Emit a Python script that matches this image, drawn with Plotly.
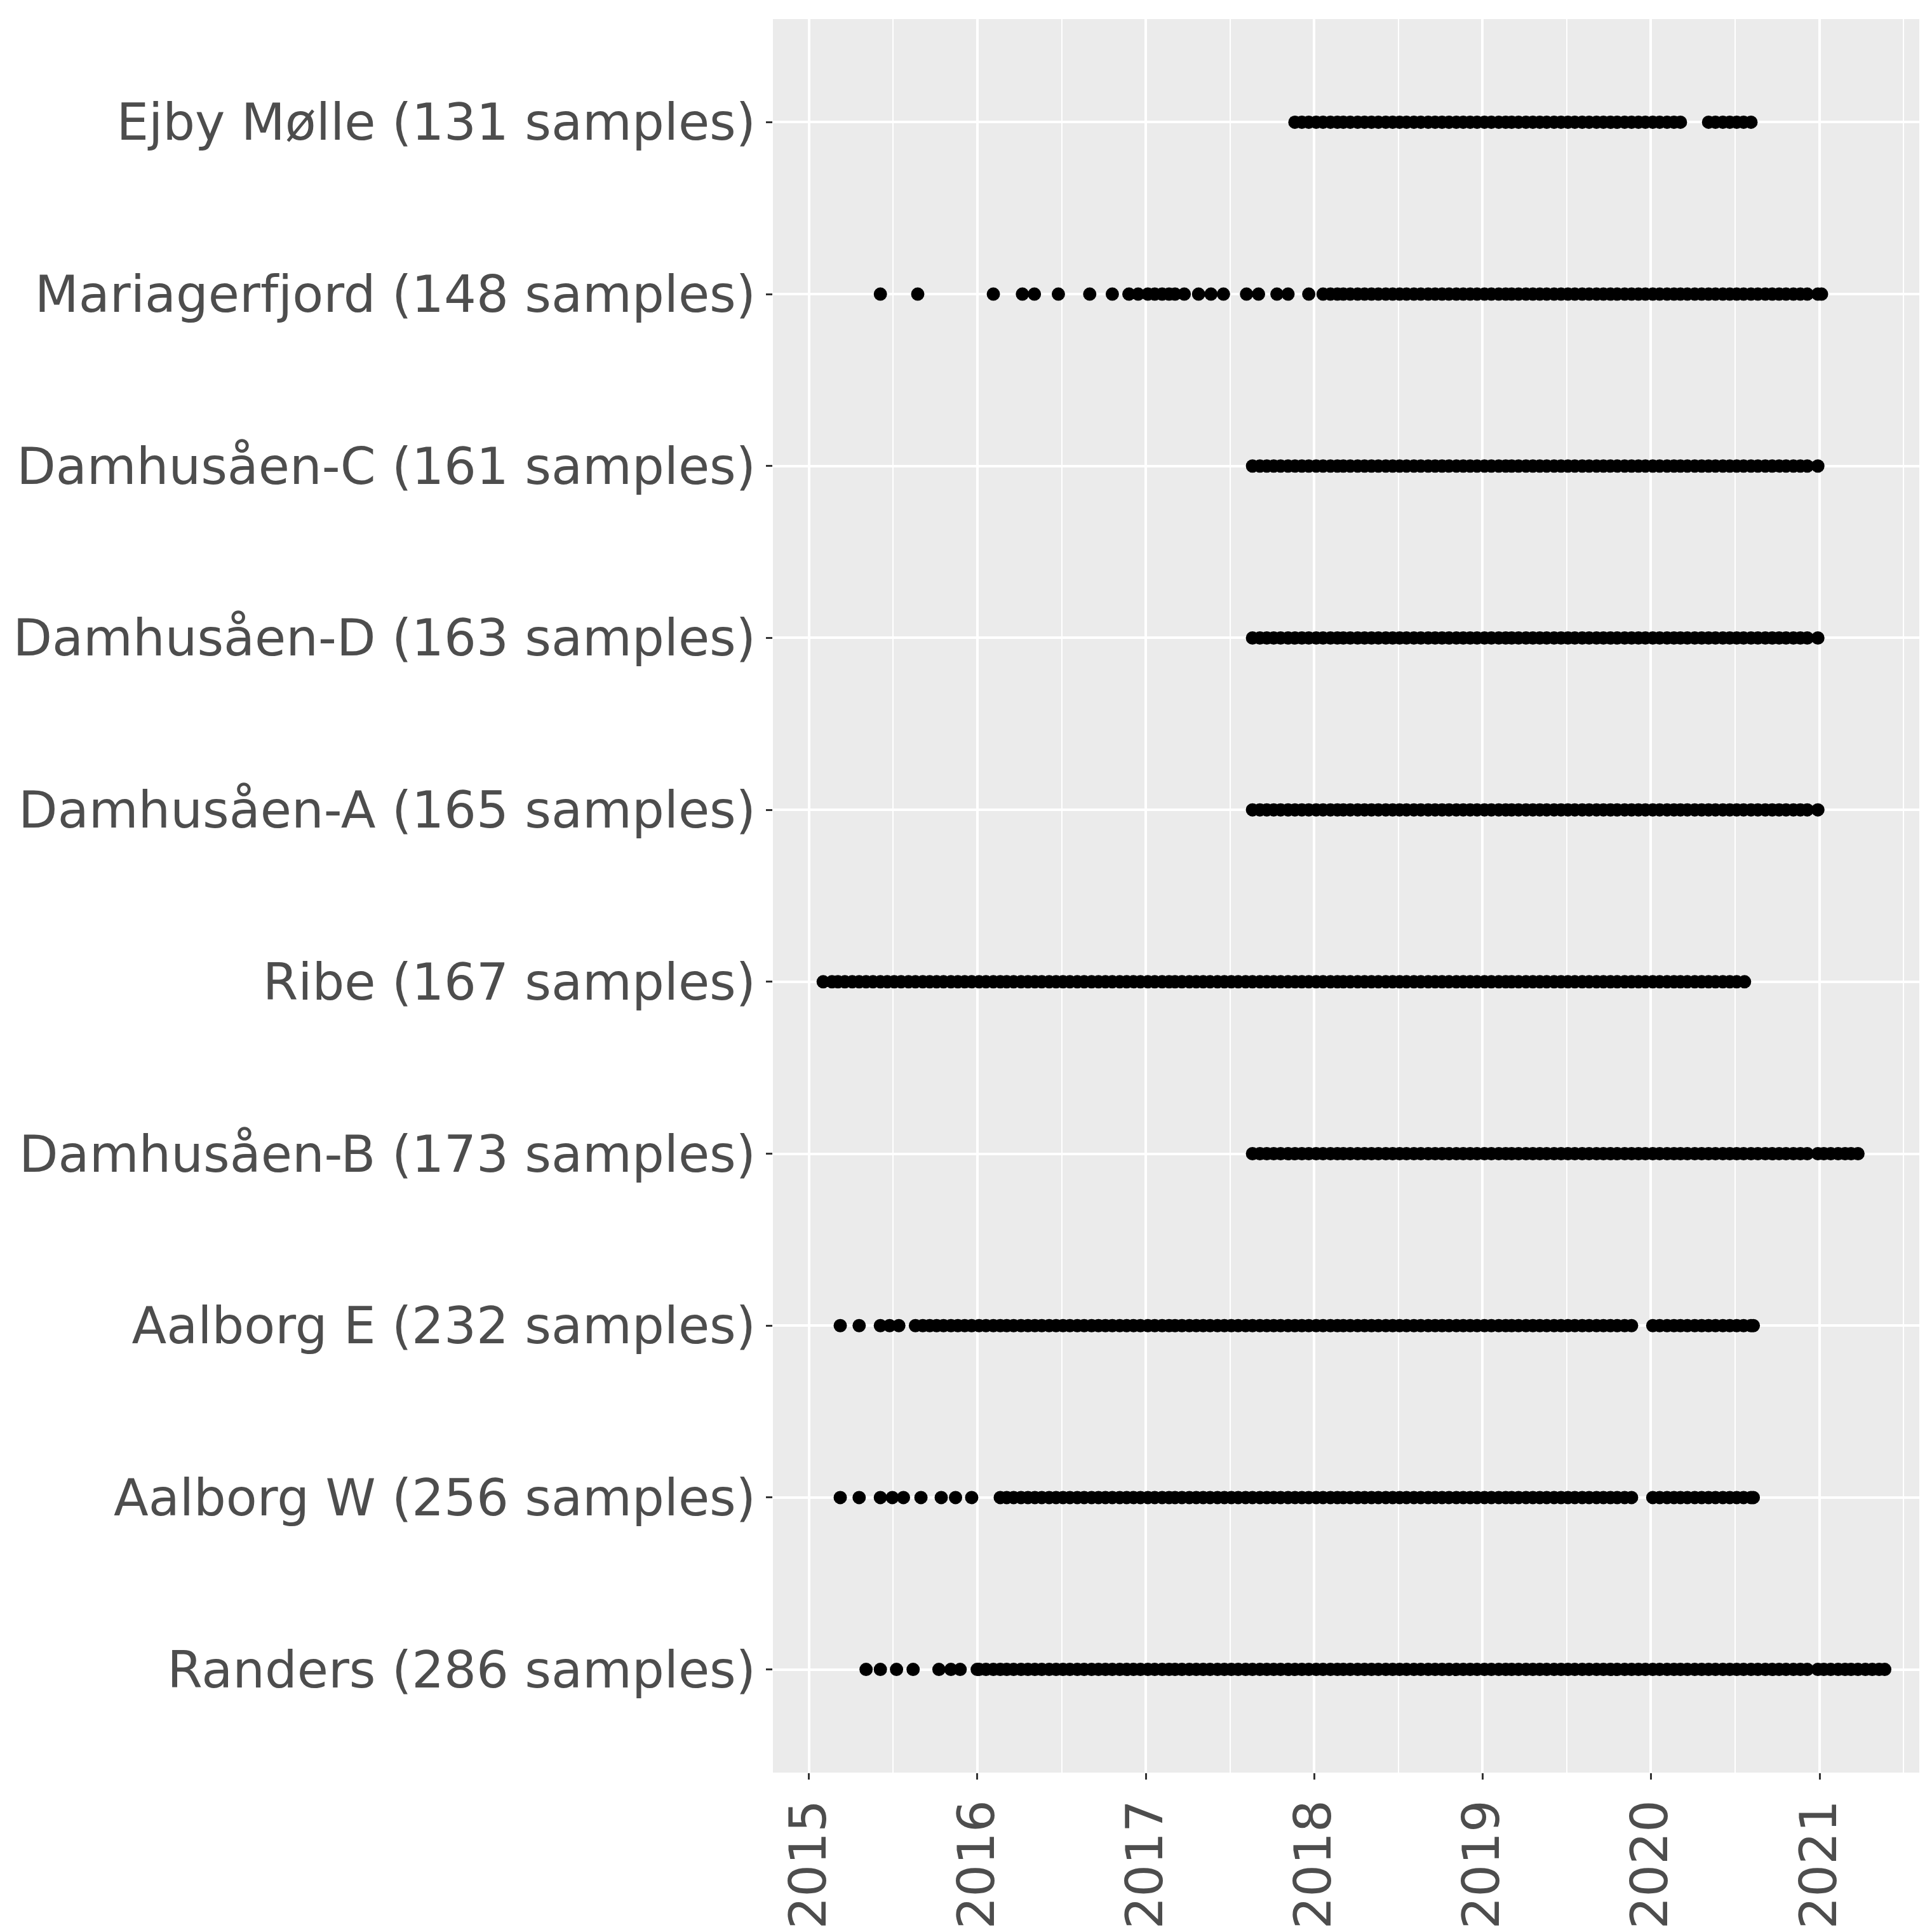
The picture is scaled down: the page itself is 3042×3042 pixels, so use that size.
import plotly.graph_objects as go

# sample dates per site
Y18 = ["2018-01-05", "2018-01-20", "2018-02-05", "2018-02-20", "2018-03-05", "2018-03-20", "2018-04-05", "2018-04-20",
       "2018-05-05", "2018-05-20", "2018-06-05", "2018-06-20", "2018-07-05", "2018-07-20", "2018-08-05", "2018-08-20",
       "2018-09-05", "2018-09-20", "2018-10-05", "2018-10-20", "2018-11-05", "2018-11-20", "2018-12-05", "2018-12-20"]
Y19 = ["2019-01-05", "2019-01-20", "2019-02-05", "2019-02-20", "2019-03-05", "2019-03-20", "2019-04-05", "2019-04-20",
       "2019-05-05", "2019-05-20", "2019-06-05", "2019-06-20", "2019-07-05", "2019-07-20", "2019-08-05", "2019-08-20",
       "2019-09-05", "2019-09-20", "2019-10-05", "2019-10-20", "2019-11-05", "2019-11-20", "2019-12-05", "2019-12-20"]
Y20 = ["2020-01-05", "2020-01-20", "2020-02-05", "2020-02-20", "2020-03-05", "2020-03-20", "2020-04-05", "2020-04-20",
       "2020-05-05", "2020-05-20", "2020-06-05", "2020-06-20", "2020-07-05", "2020-07-20", "2020-08-05", "2020-08-20",
       "2020-09-05", "2020-09-20", "2020-10-05", "2020-10-20", "2020-11-05", "2020-11-20", "2020-12-05", "2020-12-28"]
Y17 = ["2017-01-05", "2017-01-20", "2017-02-05", "2017-02-20", "2017-03-05", "2017-03-20", "2017-04-05", "2017-04-20",
       "2017-05-05", "2017-05-20", "2017-06-05", "2017-06-20", "2017-07-05", "2017-07-20", "2017-08-05", "2017-08-20",
       "2017-09-05", "2017-09-20", "2017-10-05", "2017-10-20", "2017-11-05", "2017-11-20", "2017-12-05", "2017-12-20"]
Y16 = ["2016-01-05", "2016-01-20", "2016-02-05", "2016-02-20", "2016-03-05", "2016-03-20", "2016-04-05", "2016-04-20",
       "2016-05-05", "2016-05-20", "2016-06-05", "2016-06-20", "2016-07-05", "2016-07-20", "2016-08-05", "2016-08-20",
       "2016-09-05", "2016-09-20", "2016-10-05", "2016-10-20", "2016-11-05", "2016-11-20", "2016-12-05", "2016-12-20"]

ejby = ["2017-11-20", "2017-12-05", "2017-12-20"] + Y18 + Y19 + Y20[:5] + Y20[8:15]
mariager = ["2015-06-05", "2015-08-25", "2016-02-05", "2016-04-08", "2016-05-04", "2016-06-25", "2016-09-01",
            "2016-10-20", "2016-11-25", "2016-12-15", "2017-01-05", "2017-01-20", "2017-02-05", "2017-02-20",
            "2017-03-05", "2017-03-25", "2017-04-25", "2017-05-22", "2017-06-18", "2017-08-07", "2017-09-02",
            "2017-10-12", "2017-11-05", "2017-12-20"] + Y18[1:] + Y19 + Y20 + ["2021-01-05"]
damhus = Y17[15:] + Y18 + Y19 + Y20
damhus_b = damhus + ["2021-01-10", "2021-01-25", "2021-02-10", "2021-02-25", "2021-03-10", "2021-03-25"]
ribe = ["2015-02-01", "2015-02-20", "2015-03-05", "2015-03-20", "2015-04-05", "2015-04-20", "2015-05-05",
        "2015-05-20", "2015-06-05", "2015-06-20", "2015-07-05", "2015-07-20", "2015-08-05", "2015-08-20",
        "2015-09-05", "2015-09-20", "2015-10-05", "2015-10-20", "2015-11-05", "2015-11-20", "2015-12-05",
        "2015-12-20"] + Y16 + Y17 + Y18 + Y19 + Y20[:13] + ["2020-07-22"]
aalborg_e = ["2015-03-10", "2015-04-20", "2015-06-05", "2015-06-25", "2015-07-15",
             "2015-08-20", "2015-09-05", "2015-09-20", "2015-10-05", "2015-10-20", "2015-11-05", "2015-11-20",
             "2015-12-05", "2015-12-20"] + Y16 + Y17 + Y18 + Y19[:22] + Y20[:15] + ["2020-08-10"]
aalborg_w = ["2015-03-10", "2015-04-20", "2015-06-05", "2015-07-01", "2015-07-25", "2015-09-01", "2015-10-15",
             "2015-11-15", "2015-12-20"] + Y16[3:] + Y17 + Y18 + Y19[:22] + Y20[:15] + ["2020-08-10"]
randers = ["2015-05-05", "2015-06-05", "2015-07-10", "2015-08-15", "2015-10-10", "2015-11-05", "2015-11-25",
           "2016-01-01"] + Y16 + Y17 + Y18 + Y19 + Y20 + \
          ["2021-01-10", "2021-01-25", "2021-02-10", "2021-02-25", "2021-03-10", "2021-03-25", "2021-04-10",
           "2021-04-25", "2021-05-10", "2021-05-22"]

sites = ["Randers (286 samples)", "Aalborg W (256 samples)", "Aalborg E (232 samples)",
         "Damhusåen-B (173 samples)", "Ribe (167 samples)", "Damhusåen-A (165 samples)",
         "Damhusåen-D (163 samples)", "Damhusåen-C (161 samples)", "Mariagerfjord (148 samples)",
         "Ejby Mølle (131 samples)"]
dates = [randers, aalborg_w, aalborg_e, damhus_b, ribe, damhus, damhus, damhus, mariager, ejby]

xs, ys = [], []
for s, d in zip(sites, dates):
    xs += d
    ys += [s] * len(d)

fig = go.Figure(go.Scatter(x=xs, y=ys, mode="markers",
                           marker=dict(color="black", size=21, line=dict(width=0))))

fig.update_layout(
    width=3042, height=3042,
    margin=dict(l=1150, r=28, t=22, b=232),
    plot_bgcolor="#ebebeb", paper_bgcolor="white",
    showlegend=False,
    font=dict(family="DejaVu Sans", size=80, color="#4d4d4d"),
)
fig.update_xaxes(
    type="date", range=["2014-10-15", "2021-08-05"],
    tickvals=["2015-01-01", "2016-01-01", "2017-01-01", "2018-01-01", "2019-01-01", "2020-01-01", "2021-01-01"],
    ticktext=["2015", "2016", "2017", "2018", "2019", "2020", "2021"],
    tickangle=-90, ticks="outside", ticklen=10, tickcolor="#333333", tickwidth=3,
    showgrid=True, gridcolor="white", gridwidth=4, zeroline=False,
    minor=dict(tickvals=["2015-07-02", "2016-07-02", "2017-07-02", "2018-07-02", "2019-07-02",
                         "2020-07-02", "2021-07-02"], showgrid=True, gridcolor="white", gridwidth=2),
)
fig.update_yaxes(
    type="category", categoryorder="array", categoryarray=sites, range=[-0.6, 9.6],
    ticks="outside", ticklen=10, tickcolor="#333333", tickwidth=3,
    showgrid=True, gridcolor="white", gridwidth=4, zeroline=False,
)

fig.write_html("out.html")
